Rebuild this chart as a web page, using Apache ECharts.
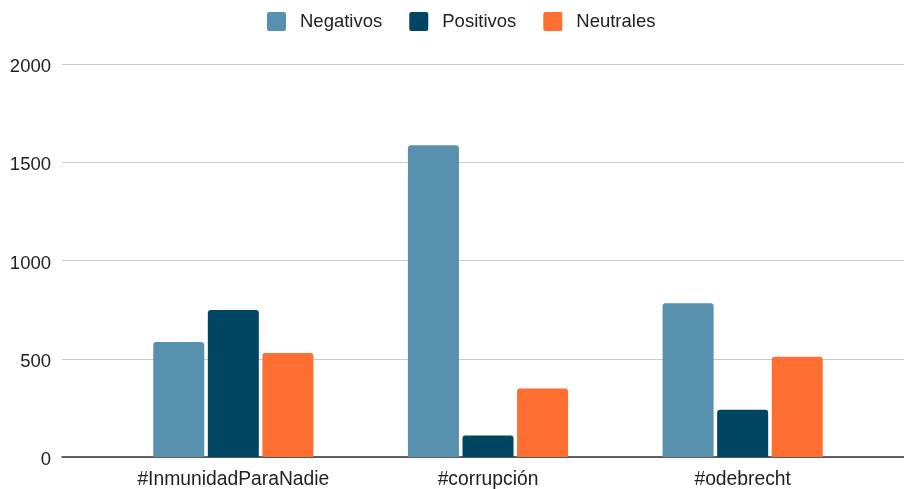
<!DOCTYPE html>
<html>
<head>
<meta charset="utf-8">
<script src="https://cdn.jsdelivr.net/npm/echarts@6/dist/echarts.min.js"></script>
<style>html,body{margin:0;padding:0;background:#fff}#c{width:904px;height:489px}</style>
</head>
<body>
<div id="c"></div>
<script>
const categories = ['#InmunidadParaNadie', '#corrupción', '#odebrecht'];
const negativos = [585, 1586, 782];
const positivos = [748, 110, 241];
const neutrales = [529, 348, 510];
const yTicks = [0, 500, 1000, 1500, 2000];

const FONT = '"Liberation Sans", Arial, sans-serif';
const chart = echarts.init(document.getElementById('c'), null, {renderer: 'canvas'});
const radius = [3, 3, 0, 0];
chart.setOption({
  animation: false,
  textStyle: {fontFamily: FONT},
  legend: {
    left: 267, top: 12, padding: 0,
    itemWidth: 19, itemHeight: 19, itemGap: 27,
    icon: 'path://M2,0 L17,0 Q19,0 19,2 L19,17 Q19,19 17,19 L2,19 Q0,19 0,17 L0,2 Q0,0 2,0 Z',
    textStyle: {fontFamily: FONT, fontSize: 18.5, color: '#222', padding: [2, 0, 0, 9]},
    data: ['Negativos', 'Positivos', 'Neutrales']
  },
  grid: [
    {left: 62, right: 0, top: 64, height: 393, containLabel: false},
    {left: 106, right: 34, top: 64, height: 393, containLabel: false}
  ],
  xAxis: [
    {gridIndex: 0, type: 'category', data: [''], axisLabel: {show: false}, axisTick: {show: false},
     axisLine: {show: true, lineStyle: {color: '#333', width: 1.5}}, splitLine: {show: false}},
    {gridIndex: 1, type: 'category', data: categories, axisTick: {show: false},
     axisLine: {show: false},
     axisLabel: {margin: 13, fontSize: 19.3, color: '#222', fontFamily: FONT}}
  ],
  yAxis: [
    {gridIndex: 0, type: 'value', min: yTicks[0], max: yTicks[yTicks.length - 1], interval: 500,
     axisLine: {show: false}, axisTick: {show: false},
     axisLabel: {margin: 11, color: '#222', fontFamily: FONT,
                 formatter: v => '{a|' + v + '}',
                 rich: {a: {fontSize: 18.5, color: '#222', fontFamily: FONT, padding: [6, 0, 0, 0]}}},
     splitLine: {lineStyle: {color: '#cccccc', width: 1}}},
    {gridIndex: 1, type: 'value', min: yTicks[0], max: yTicks[yTicks.length - 1], interval: 500,
     show: false, splitLine: {show: false}}
  ],
  series: [
    {name: 'Negativos', type: 'bar', xAxisIndex: 1, yAxisIndex: 1, data: negativos,
     barWidth: 51, barGap: '7%', itemStyle: {color: '#5891AD', borderRadius: radius}},
    {name: 'Positivos', type: 'bar', xAxisIndex: 1, yAxisIndex: 1, data: positivos,
     barWidth: 51, barGap: '7%', itemStyle: {color: '#004561', borderRadius: radius}},
    {name: 'Neutrales', type: 'bar', xAxisIndex: 1, yAxisIndex: 1, data: neutrales,
     barWidth: 51, barGap: '7%', itemStyle: {color: '#FF6F31', borderRadius: radius}}
  ]
});
</script>
</body>
</html>
